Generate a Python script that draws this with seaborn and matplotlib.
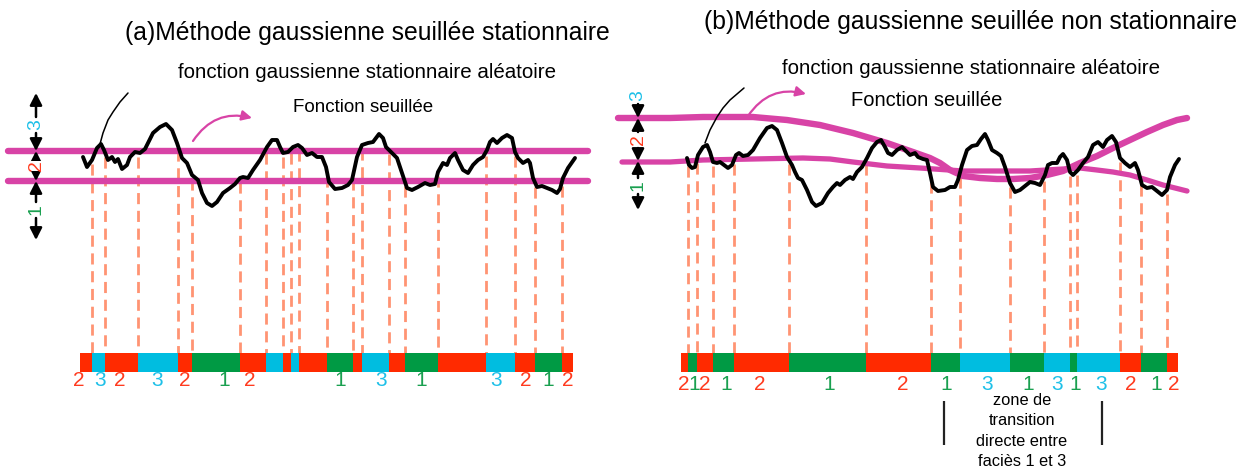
import numpy as np
import matplotlib
matplotlib.use("Agg")
import matplotlib.pyplot as plt
import seaborn as sns

# ---------------- data (pixel space) ----------------
titles = ["(a)Méthode gaussienne seuillée stationnaire",
          "(b)Méthode gaussienne seuillée non stationnaire"]
subtitle = "fonction gaussienne stationnaire aléatoire"
seuil_label = "Fonction seuillée"
zone_label = "zone de\ntransition\ndirecte entre\nfaciès 1 et 3"

# (a) stationary Gaussian random function
left_curve_x = [83, 87, 92, 97, 101, 104, 108, 112, 115, 118, 122, 127, 130, 135, 140, 145, 153, 160, 166, 172,
                177, 182, 187, 192, 198, 202, 207, 212, 217, 223, 230, 235, 240, 243, 248, 253, 260, 267, 272, 277,
                280, 283, 288, 293, 298, 302, 307, 312, 317, 322, 326, 329, 335, 342, 348, 352, 357, 362, 368, 373,
                379, 383, 386, 392, 397, 402, 407, 412, 418, 425, 430, 435, 438, 443, 447, 450, 455, 458, 463, 468,
                473, 478, 483, 487, 490, 493, 497, 502, 507, 512, 515, 518, 523, 528, 530, 533, 537, 542, 547, 552,
                557, 560, 563, 568, 575]
left_curve_y = [157, 167, 160, 148, 144, 150, 160, 157, 162, 159, 169, 165, 157, 152, 153, 149, 133, 127, 124, 130,
                143, 158, 163, 175, 180, 193, 203, 206, 202, 193, 188, 184, 178, 177, 178, 170, 160, 147, 140, 140,
                147, 153, 152, 147, 145, 148, 155, 153, 157, 157, 167, 182, 189, 188, 185, 180, 157, 145, 143, 142,
                134, 138, 147, 153, 158, 173, 188, 190, 187, 183, 185, 184, 172, 163, 165, 158, 153, 160, 170, 173,
                165, 160, 157, 150, 142, 139, 143, 138, 135, 138, 152, 158, 163, 160, 163, 178, 187, 186, 188, 190,
                193, 189, 178, 168, 158]
left_thresholds = [151, 181]
left_threshold_x = [8, 588]
left_cuts = [92, 105, 138, 178, 192, 240, 266, 283, 291, 299, 327, 353, 362, 389, 405, 438, 486, 515, 535, 562]
left_facies = [2, 3, 2, 3, 2, 1, 2, 3, 2, 3, 2, 1, 2, 3, 2, 1, 2, 3, 2, 1, 2]
left_bar_span = [80, 573]
left_label_x = [79, 100, 120, 157, 185, 224, 250, 340, 381, 421, 496, 526, 548, 568]
left_label_txt = ["2", "3", "2", "3", "2", "1", "2", "1", "3", "1", "3", "2", "1", "2"]

# (b) non-stationary thresholds
right_curve_x = [687, 689, 692, 695, 698, 703, 707, 710, 713, 717, 720, 724, 728, 732, 736, 739, 743, 748, 753, 760,
                 767, 772, 777, 782, 787, 792, 795, 798, 802, 807, 812, 816, 822, 828, 833, 837, 840, 845, 850, 853,
                 857, 862, 867, 872, 877, 881, 885, 888, 892, 897, 902, 907, 910, 915, 918, 923, 927, 930, 933, 938,
                 945, 950, 955, 958, 962, 967, 972, 977, 981, 985, 988, 992, 997, 1001, 1005, 1010, 1015, 1020, 1025,
                 1030, 1035, 1040, 1045, 1048, 1052, 1057, 1060, 1063, 1067, 1070, 1073, 1078, 1083, 1088, 1093,
                 1098, 1103, 1107, 1112, 1116, 1120, 1125, 1130, 1135, 1138, 1142, 1147, 1152, 1157, 1162, 1167,
                 1170, 1175, 1179]
right_curve_y = [158, 165, 168, 167, 155, 147, 145, 152, 162, 163, 162, 165, 168, 165, 155, 153, 156, 155, 150, 138,
                 128, 126, 130, 143, 157, 165, 172, 178, 180, 190, 202, 206, 203, 193, 187, 183, 185, 180, 177, 179,
                 172, 167, 158, 148, 142, 140, 147, 153, 155, 150, 147, 152, 155, 153, 157, 159, 160, 173, 187, 191,
                 190, 187, 187, 180, 165, 150, 146, 145, 139, 134, 140, 150, 153, 156, 167, 183, 192, 190, 186,
                 182, 183, 185, 175, 165, 163, 163, 157, 154, 160, 172, 175, 170, 163, 157, 145,
                 142, 147, 140, 136, 142, 158, 163, 167, 163, 170, 185, 188, 187, 191, 195, 190,
                 177, 165, 159]
right_upper_x = [618, 670, 703, 753, 787, 820, 853, 887, 913, 930, 940, 950, 963, 980, 997, 1013, 1030, 1047, 1063,
                 1080, 1097, 1113, 1130, 1147, 1163, 1177, 1187]
right_upper_y = [118, 118, 117, 117, 120, 125, 133, 143, 152, 158, 163, 170, 176, 178, 179, 179, 178, 175, 171,
                 163, 156, 148, 140, 132, 125, 120, 118]
right_lower_x = [622, 670, 703, 753, 803, 830, 853, 887, 920, 963, 997, 1030, 1063, 1080, 1097, 1113, 1130, 1147,
                 1163, 1187]
right_lower_y = [162, 162, 160, 159, 158, 159, 162, 166, 168, 171, 171, 171, 169, 168, 170, 172, 175, 180, 185, 191]
right_cuts = [688, 697, 713, 734, 789, 866, 931, 960, 1010, 1044, 1070, 1077, 1120, 1141, 1167]
right_facies = [2, 1, 2, 1, 2, 1, 2, 1, 3, 1, 3, 1, 3, 2, 1, 2]
right_bar_span = [681, 1178]
right_label_x = [684, 694, 705, 726, 760, 829, 903, 946, 987, 1028, 1057, 1075, 1101, 1131, 1156, 1174]
right_label_txt = ["2", "1", "2", "1", "2", "1", "2", "1", "3", "1", "3", "1", "3", "2", "1", "2"]

# ---------------- styles ----------------
MAGENTA = "#d843a6"
DASH = "#ff9473"
BAR_COL = {1: "#009a44", 2: "#ff2a00", 3: "#00bde0"}
TXT_COL = {"1": "#1aa050", "2": "#ff3b1f", "3": "#1ec0e8"}

sns.set_theme(style="white")
plt.rcParams["font.family"] = ["Liberation Sans", "DejaVu Sans"]
plt.rcParams["text.color"] = "black"

fig = plt.figure(figsize=(12.42, 4.71), dpi=100)
ax = fig.add_axes([0, 0, 1, 1])
ax.set_xlim(0, 1242)
ax.set_ylim(471, 0)
ax.axis("off")

BAR_TOP, BAR_H = 353, 19


def draw_panel(cx, cy, cuts, facies, span, lab_x, lab_txt, lab_y):
    ystart = np.interp(cuts, cx, cy) + 4
    ax.vlines(cuts, ystart, BAR_TOP, colors=DASH, linestyles=(0, (4, 2.4)), lw=2.0, zorder=1)
    edges = [span[0]] + list(cuts) + [span[1]]
    lefts = edges[:-1]
    widths = np.diff(edges)
    ax.barh(y=BAR_TOP + BAR_H / 2, width=widths, left=lefts, height=BAR_H,
            color=[BAR_COL[f] for f in facies], edgecolor="none", zorder=3)
    for x, t in zip(lab_x, lab_txt):
        ax.text(x, lab_y, t, color=TXT_COL[t], fontsize=15, ha="center", va="center", zorder=4)
    sns.lineplot(x=cx, y=cy, sort=False, estimator=None, color="black", lw=2.8, ax=ax,
                 solid_joinstyle="round", solid_capstyle="round", zorder=5)


def side_arrows(x, segs):
    kw = dict(arrowstyle="-|>,head_length=0.55,head_width=0.28", color="black", lw=1.8,
              shrinkA=0, shrinkB=0, mutation_scale=13)
    for top, bot, lab, ly in segs:
        if top is not None:
            ax.annotate("", xy=(x, top), xytext=(x, ly - 8), arrowprops=kw, zorder=5)
        ax.annotate("", xy=(x, bot), xytext=(x, ly + 8), arrowprops=kw, zorder=5)
        ax.text(x, ly, lab, rotation=90, color=TXT_COL[lab], fontsize=14, ha="center", va="center",
                zorder=7, bbox=dict(boxstyle="square,pad=0.0", fc="white", ec="none"))


# ---------------- panel (a) ----------------
for th in left_thresholds:
    sns.lineplot(x=left_threshold_x, y=[th, th], color=MAGENTA, lw=4.6, ax=ax, zorder=4)
draw_panel(left_curve_x, left_curve_y, left_cuts, left_facies, left_bar_span, left_label_x, left_label_txt, 381)
side_arrows(36, [(93, 151, "3", 125), (151, 181, "2", 166), (181, 240, "1", 210)])

ax.text(367, 33, titles[0], fontsize=17.8, ha="center", va="center")
ax.text(367, 72, subtitle, fontsize=14.8, ha="center", va="center")
ax.text(363, 107, seuil_label, fontsize=13.5, ha="center", va="center")
ax.plot([100, 103, 108, 113, 120, 128], [144, 133, 120, 112, 102, 93], color="black", lw=1.1, zorder=6)
ax.annotate("", xy=(252, 118), xytext=(193, 141),
            arrowprops=dict(arrowstyle="-|>,head_length=0.5,head_width=0.25", color=MAGENTA, lw=1.6,
                            connectionstyle="arc3,rad=-0.35", shrinkA=0, shrinkB=0))

# ---------------- panel (b) ----------------
sns.lineplot(x=right_upper_x, y=right_upper_y, sort=False, color=MAGENTA, lw=4.6, ax=ax, zorder=4,
             solid_joinstyle="round")
sns.lineplot(x=right_lower_x, y=right_lower_y, sort=False, color=MAGENTA, lw=3.8, ax=ax, zorder=4,
             solid_joinstyle="round")
draw_panel(right_curve_x, right_curve_y, right_cuts, right_facies, right_bar_span, right_label_x, right_label_txt, 384)
side_arrows(638, [(None, 118, "3", 96), (118, 161, "2", 140), (161, 210, "1", 186)])

ax.text(971, 22, titles[1], fontsize=17.8, ha="center", va="center")
ax.text(971, 69, subtitle, fontsize=14.8, ha="center", va="center")
ax.text(927, 101, seuil_label, fontsize=14.5, ha="center", va="center")
ax.plot([705, 710, 717, 723, 730, 737, 744], [143, 130, 117, 108, 100, 94, 88], color="black", lw=1.1, zorder=6)
ax.annotate("", xy=(806, 94), xytext=(748, 116),
            arrowprops=dict(arrowstyle="-|>,head_length=0.5,head_width=0.25", color=MAGENTA, lw=1.6,
                            connectionstyle="arc3,rad=-0.35", shrinkA=0, shrinkB=0))

# transition zone annotation
ax.vlines([944, 1102], 401, 445, colors="#222222", lw=1.6)
ax.text(1022, 431, zone_label, fontsize=11.8, ha="center", va="center", linespacing=1.45)

leg = ax.get_legend()
if leg is not None:
    leg.remove()

fig.savefig("out.png", dpi=100)
